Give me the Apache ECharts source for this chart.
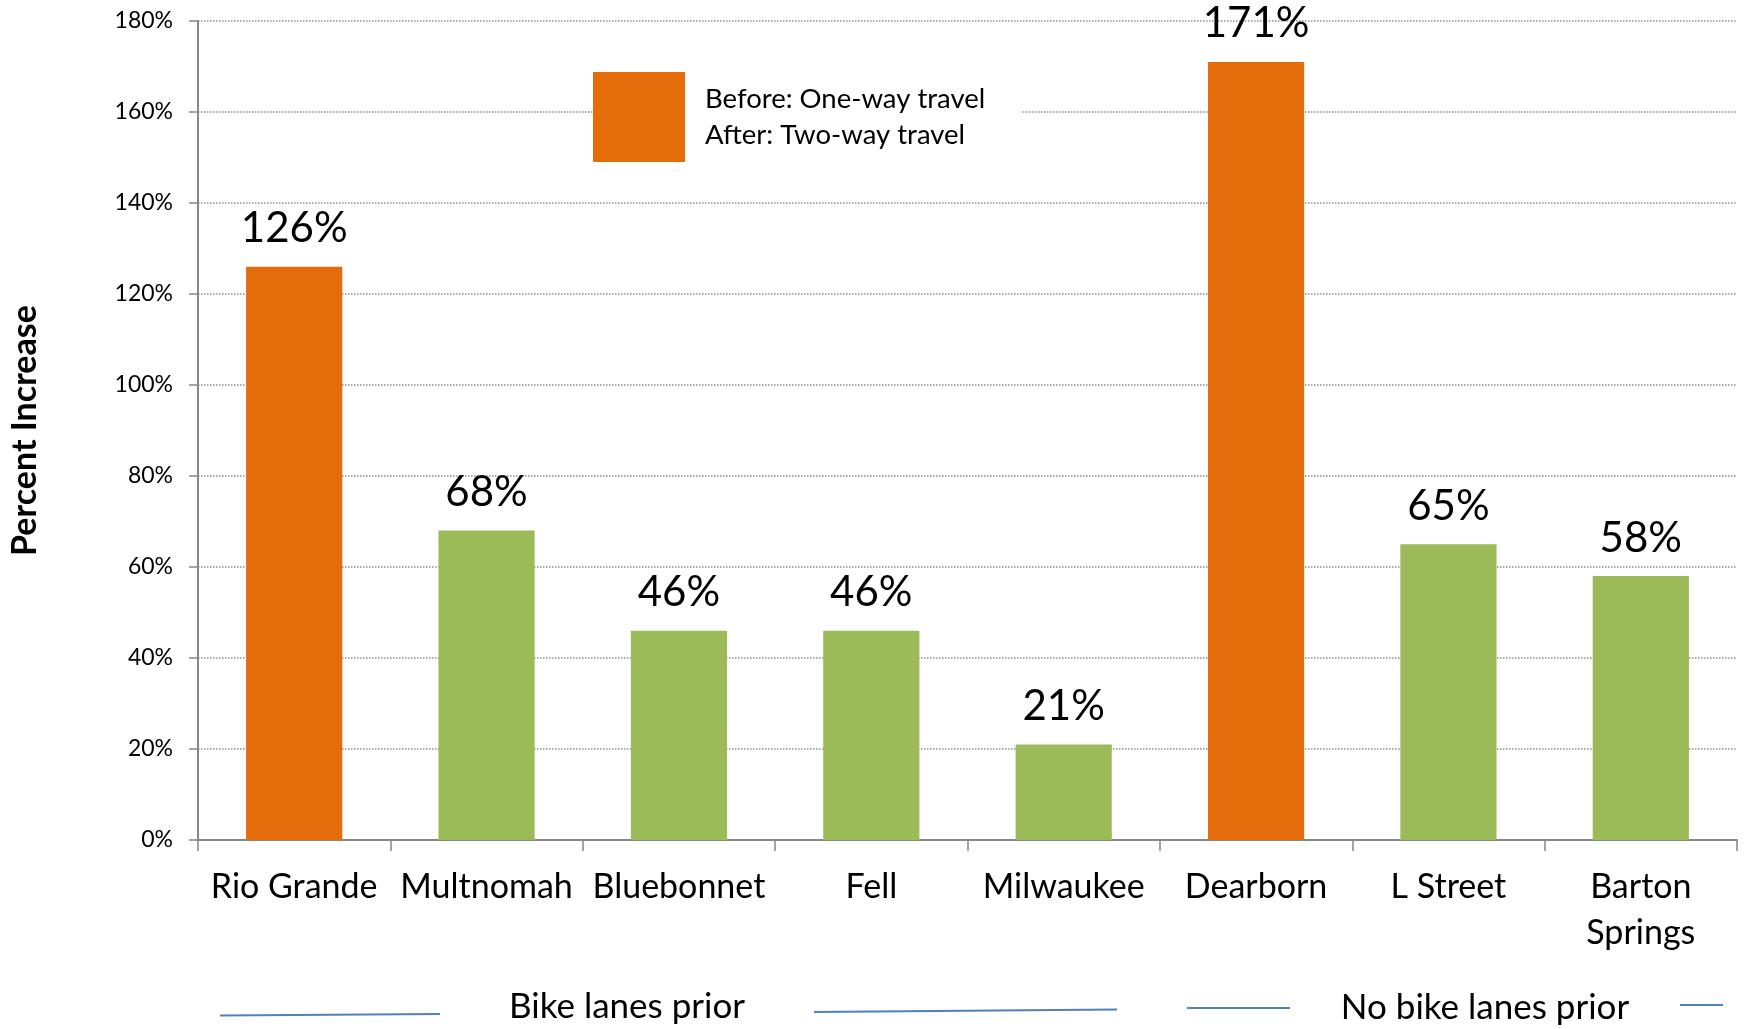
<!DOCTYPE html>
<html><head><meta charset="utf-8">
<script src="https://cdn.jsdelivr.net/npm/echarts@6/dist/echarts.min.js"></script>
<style>html,body{margin:0;padding:0;background:#fff}#c{width:1746px;height:1029px}</style>
</head><body><div id="c"></div>
<script>
const categories = ['Rio Grande','Multnomah','Bluebonnet','Fell','Milwaukee','Dearborn','L Street','Barton\nSprings'];
const twoWayConversion = [126, null, null, null, null, 171, null, null];
const otherStreets = [null, 68, 46, 46, 21, null, 65, 58];
const legendLabel = 'Before: One-way travel\nAfter: Two-way travel';
const groupLabels = ['Bike lanes prior', 'No bike lanes prior'];
const yMin = 0, yMax = 180, yStep = 20;

const FONT = 'Lato';
const chart = echarts.init(document.getElementById('c'));
const labelCfg = {
  show: true, position: 'top', distance: 17,
  fontFamily: FONT, fontSize: 42, lineHeight: 42, color: '#000',
  formatter: p => p.value + '%'
};
chart.setOption({
  animation: false,
  grid: { left: 198, right: 9, top: 21, bottom: 189, containLabel: false },
  legend: {
    data: [legendLabel], left: 593, top: 72, orient: 'vertical',
    icon: 'rect', itemWidth: 92, itemHeight: 90,
    backgroundColor: '#fff', padding: [0, 36, 0, 0],
    textStyle: { fontFamily: FONT, fontSize: 27.5, lineHeight: 36, color: '#000', padding: [0, 0, 0, 15] }
  },
  xAxis: {
    type: 'category', data: categories,
    axisLine: { lineStyle: { color: '#878787', width: 2 } },
    axisTick: { show: true, length: 11, lineStyle: { color: '#878787', width: 1.5 } },
    axisLabel: { fontFamily: FONT, fontSize: 34, lineHeight: 46, color: '#000', margin: 24, interval: 0 }
  },
  yAxis: {
    type: 'value', min: yMin, max: yMax, interval: yStep,
    name: 'Percent Increase', nameLocation: 'middle', nameGap: 156,
    nameTextStyle: { fontFamily: FONT, fontSize: 34, fontWeight: 'bold', color: '#000' },
    axisLine: { show: true, lineStyle: { color: '#878787', width: 2 } },
    axisTick: { show: true, length: 9, lineStyle: { color: '#878787', width: 1.5 } },
    axisLabel: { fontFamily: FONT, fontSize: 23, color: '#000', margin: 25, formatter: '{value}%' },
    splitLine: { show: true, lineStyle: { color: '#8c8c8c', type: 'dotted', width: 1.5 } }
  },
  series: [
    { name: legendLabel, type: 'bar', data: twoWayConversion, barWidth: '50%', barGap: '-100%',
      itemStyle: { color: '#E46C0A' }, label: labelCfg },
    { name: 'Other', type: 'bar', data: otherStreets, barWidth: '50%', barGap: '-100%',
      itemStyle: { color: '#9BBB59' }, label: labelCfg }
  ],
  graphic: [
    { type: 'line', shape: { x1: 220, y1: 1015.5, x2: 440, y2: 1014 }, style: { stroke: '#4F81BD', lineWidth: 2 } },
    { type: 'line', shape: { x1: 814, y1: 1012, x2: 1117, y2: 1009.5 }, style: { stroke: '#4F81BD', lineWidth: 2 } },
    { type: 'line', shape: { x1: 1187, y1: 1008, x2: 1290, y2: 1008 }, style: { stroke: '#4F81BD', lineWidth: 2 } },
    { type: 'line', shape: { x1: 1680, y1: 1005, x2: 1723, y2: 1005 }, style: { stroke: '#4F81BD', lineWidth: 2 } },
    { type: 'text', x: 627, y: 1007, style: { text: groupLabels[0], fontFamily: FONT, fontSize: 35, fill: '#000', align: 'center', verticalAlign: 'middle' } },
    { type: 'text', x: 1485, y: 1008, style: { text: groupLabels[1], fontFamily: FONT, fontSize: 35, fill: '#000', align: 'center', verticalAlign: 'middle' } }
  ]
});
</script></body></html>
